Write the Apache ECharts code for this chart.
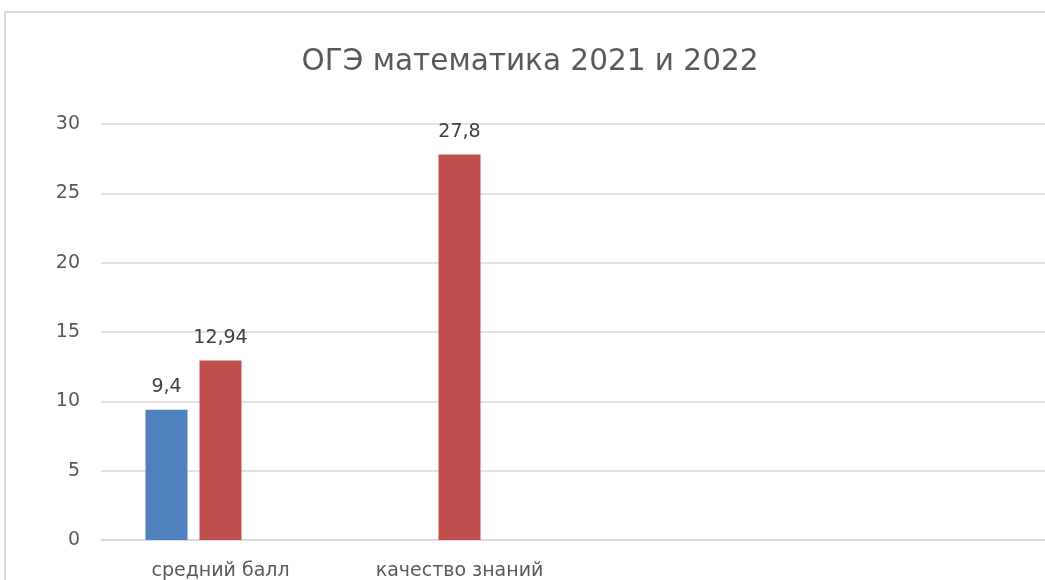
<!DOCTYPE html>
<html><head><meta charset="utf-8">
<script src="https://cdn.jsdelivr.net/npm/echarts@6/dist/echarts.min.js"></script>
<style>html,body{margin:0;padding:0;background:#fff;overflow:hidden}#c{width:1060px;height:600px}</style>
</head><body><div id="c"></div>
<script>
const titleText = 'ОГЭ математика 2021 и 2022';
const categories = ['средний балл', 'качество знаний', '', ''];
const series2021 = [9.4, null, null, null];
const series2022 = [12.94, 27.8, null, null];
const series3 = [null, null, null, null];
const yTicks = {min: 0, max: 30, interval: 5};

const FONT = '"DejaVu Sans", "Open Sans", sans-serif';
const chart = echarts.init(document.getElementById('c'), null, {renderer: 'canvas'});
const labelCfg = {
  show: true, position: 'top', distance: 13, color: '#404040', fontSize: 19, fontFamily: FONT,
  formatter: p => p.value == null ? '' : String(p.value).replace('.', ',')
};
chart.setOption({
  animation: false,
  backgroundColor: '#fff',
  graphic: [{type: 'rect', shape: {x: 5, y: 12, width: 1200, height: 700},
    style: {fill: 'none', stroke: '#d9d9d9', lineWidth: 2}, silent: true}],
  title: {text: titleText, left: 'center', top: 42,
    textStyle: {fontFamily: FONT, fontWeight: 'normal', fontSize: 29.5, color: '#595959'}},
  grid: {left: 101, width: 956, top: 124, height: 416, containLabel: false},
  xAxis: {type: 'category', data: categories,
    axisLine: {lineStyle: {color: '#d9d9d9', width: 1.5}},
    axisTick: {show: false},
    axisLabel: {color: '#595959', fontSize: 19, fontFamily: FONT, margin: 22, interval: 0}},
  yAxis: {type: 'value', min: yTicks.min, max: yTicks.max, interval: yTicks.interval,
    axisLine: {show: false}, axisTick: {show: false},
    splitLine: {lineStyle: {color: '#d9d9d9', width: 1.5}},
    axisLabel: {color: '#595959', fontSize: 19, fontFamily: FONT, margin: 21}},
  series: [
    {name: '2021', type: 'bar', data: series2021, barWidth: 42, barGap: '28.6%',
      itemStyle: {color: '#4f81bd'}, label: labelCfg},
    {name: '2022', type: 'bar', data: series2022, barWidth: 42, barGap: '28.6%',
      itemStyle: {color: '#c0504d'}, label: labelCfg},
    {name: '', type: 'bar', data: series3, barWidth: 42, barGap: '28.6%',
      itemStyle: {color: '#9bbb59'}, label: labelCfg}
  ]
});
</script></body></html>
